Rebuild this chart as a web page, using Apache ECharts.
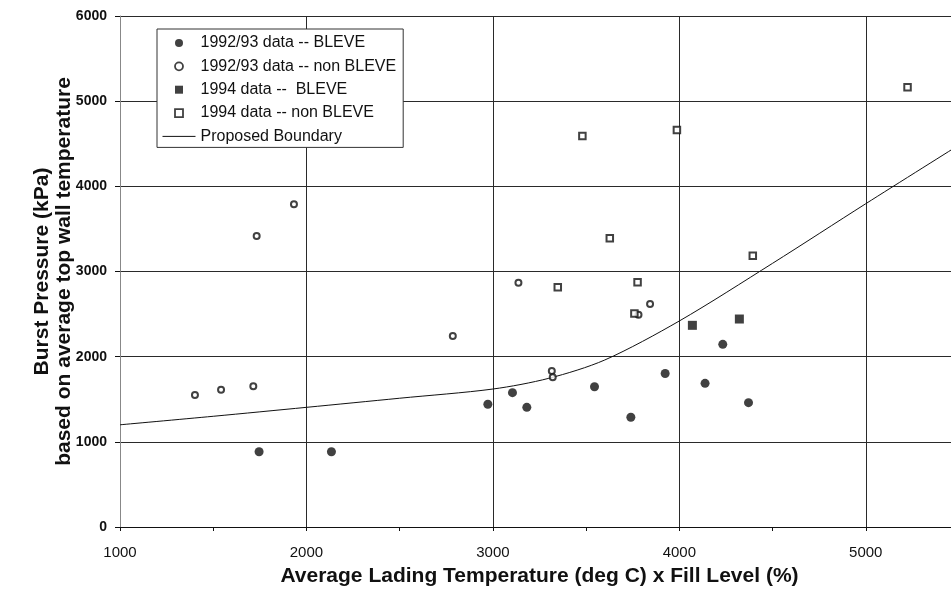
<!DOCTYPE html>
<html>
<head>
<meta charset="utf-8">
<script src="https://cdn.jsdelivr.net/npm/echarts@6/dist/echarts.min.js"></script>
<style>
html,body{margin:0;padding:0;background:#fff;}
#c{width:951px;height:596px;}
</style>
</head>
<body>
<div id="c"></div>
<script>
// ---- data ----
const xTicks = [1000, 2000, 3000, 4000, 5000];
const yTicks = [0, 1000, 2000, 3000, 4000, 5000, 6000];
const xAxisMax = 5500; // plot runs past the right edge of the (cropped) reference
const seriesNames = ['1992/93 data -- BLEVE', '1992/93 data -- non BLEVE', '1994 data --  BLEVE', '1994 data -- non BLEVE', 'Proposed Boundary'];
const bleve9293 = [[1746,884],[2134,884],[2973,1441],[3105,1577],[3182,1405],[3545,1647],[3740,1288],[3924,1803],[4138,1687],[4233,2145],[4371,1460]];
const nonBleve9293 = [[1402,1550],[1542,1612],[1715,1652],[1733,3417],[1933,3789],[2785,2243],[3137,2868],[3316,1832],[3321,1757],[3781,2493],[3843,2618]];
const bleve94 = [[4070,2368],[4322,2442]];
const nonBleve94 = [[3348,2814],[3480,4591],[3627,3390],[3759,2507],[3776,2875],[3987,4661],[4394,3185],[5224,5163]];
const boundary = [[1000,1200],[1500,1300],[2000,1405],[2500,1512],[3000,1620],[3300,1746],[3600,1961],[4000,2419],[4500,3096],[5000,3796],[5500,4485]];
const xTitle = 'Average Lading Temperature (deg C) x Fill Level (%)';
const yTitle = 'Burst Pressure (kPa)\nbased on average top wall temperature';

const FONT = '"Liberation Sans", Arial, sans-serif';
const INK = '#111';
const SQUARE = 'path://M0,0L10,0L10,10L0,10Z';

const chart = echarts.init(document.getElementById('c'), null, {renderer: 'canvas'});
chart.setOption({
  animation: false,
  backgroundColor: '#fff',
  textStyle: {fontFamily: FONT, color: INK},
  grid: {left: 120, top: 16, width: 839, height: 511, containLabel: false, outerBoundsMode: 'none'},
  legend: {
    orient: 'vertical',
    left: 157, top: 29,
    padding: [5, 7, 2, 5],
    itemGap: 5.35,
    itemWidth: 33, itemHeight: 8,
    backgroundColor: '#fff',
    borderColor: '#333', borderWidth: 1,
    textStyle: {fontFamily: FONT, fontSize: 16, color: INK, lineHeight: 18},
    selectedMode: false,
    data: [
      {name: seriesNames[0], icon: 'circle', itemStyle: {color: INK, borderWidth: 0}},
      {name: seriesNames[1], icon: 'circle', itemStyle: {color: '#fff', borderColor: INK, borderWidth: 1.8}},
      {name: seriesNames[2], icon: SQUARE, itemStyle: {color: INK, borderWidth: 0}},
      {name: seriesNames[3], icon: SQUARE, itemStyle: {color: '#fff', borderColor: INK, borderWidth: 1.8}},
      {name: seriesNames[4], itemStyle: {color: 'rgba(0,0,0,0)', borderColor: 'rgba(0,0,0,0)', borderWidth: 0, opacity: 0},
       lineStyle: {color: INK, width: 1}}
    ]
  },
  xAxis: [{
    type: 'value', min: 1000, max: xAxisMax, interval: 500, position: 'bottom',
    axisLine: {show: true, lineStyle: {color: INK, width: 1}},
    axisTick: {show: true, length: 4, lineStyle: {color: INK}},
    axisLabel: {
      margin: 18, fontFamily: FONT, fontSize: 15, color: INK,
      formatter: v => xTicks.indexOf(v) >= 0 ? String(v) : ''
    },
    splitLine: {show: false},
    name: xTitle, nameLocation: 'middle', nameGap: 39,
    nameTextStyle: {fontFamily: FONT, fontSize: 21, fontWeight: 'bold', color: INK}
  }, {
    type: 'value', min: 1000, max: xAxisMax, interval: 1000, position: 'top',
    axisLine: {show: false}, axisTick: {show: false}, axisLabel: {show: false},
    splitLine: {show: true, lineStyle: {color: '#2a2a2a', width: 1}}
  }],
  yAxis: {
    type: 'value', min: 0, max: 6000, interval: 1000,
    axisLine: {show: true, lineStyle: {color: '#888', width: 1}},
    axisTick: {show: true, length: 5, lineStyle: {color: INK}},
    axisLabel: {
      margin: 13, fontFamily: FONT, fontSize: 14, fontWeight: 'bold', color: INK,
      formatter: v => yTicks.indexOf(v) >= 0 ? String(v) : ''
    },
    splitLine: {show: true, lineStyle: {color: '#2a2a2a', width: 1}},
    name: yTitle, nameLocation: 'middle', nameGap: 45, nameRotate: 90, nameMoveOverlap: false,
    nameTextStyle: {fontFamily: FONT, fontSize: 21, fontWeight: 'bold', color: INK, lineHeight: 22, align: 'center'}
  },
  series: [
    {name: seriesNames[0], type: 'scatter', data: bleve9293, symbol: 'circle', symbolSize: 9,
     itemStyle: {color: INK}, z: 5},
    {name: seriesNames[1], type: 'scatter', data: nonBleve9293, symbol: 'circle', symbolSize: 6,
     itemStyle: {color: '#fff', borderColor: INK, borderWidth: 2}, z: 5},
    {name: seriesNames[2], type: 'scatter', data: bleve94, symbol: 'rect', symbolSize: 9,
     itemStyle: {color: INK}, z: 5},
    {name: seriesNames[3], type: 'scatter', data: nonBleve94, symbol: 'rect', symbolSize: 6.5,
     itemStyle: {color: '#fff', borderColor: INK, borderWidth: 2}, z: 5},
    {name: seriesNames[4], type: 'line', data: boundary, smooth: 0.3, symbol: 'none', showSymbol: false,
     lineStyle: {color: INK, width: 1}, itemStyle: {color: INK}, z: 4}
  ]
});
</script>
</body>
</html>
